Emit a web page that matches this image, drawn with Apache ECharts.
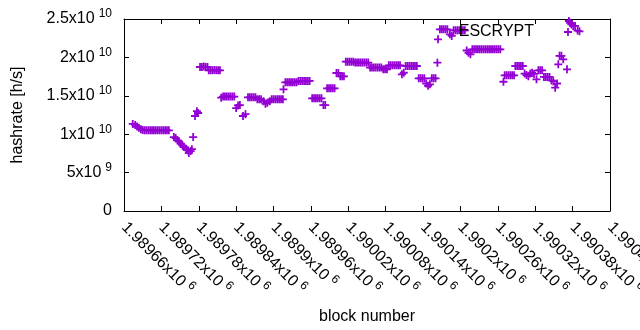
<!DOCTYPE html>
<html>
<head>
<meta charset="utf-8">
<script src="https://cdn.jsdelivr.net/npm/echarts@6/dist/echarts.min.js"></script>
<style>
  html, body { margin: 0; padding: 0; background: #fff; }
  #main { width: 640px; height: 330px; }
</style>
</head>
<body>
<div id="main"></div>
<script>
var seriesName = 'ESCRYPT'

// block number of each sample
var blockNumbers = [
  1989674, 1989678, 1989681, 1989684, 1989687,
  1989690, 1989693, 1989696, 1989699, 1989702, 1989705, 1989708, 1989711, 1989714, 1989717, 1989720, 1989723, 1989726, 1989729, 1989732,
  1989740, 1989743, 1989746, 1989748, 1989751, 1989754, 1989756, 1989760, 1989763, 1989764, 1989767, 1989769, 1989771,
  1989774, 1989777, 1989779,
  1989782, 1989785, 1989788, 1989791, 1989794,
  1989796, 1989799, 1989802, 1989805, 1989808, 1989811, 1989814,
  1989816, 1989819, 1989822, 1989825, 1989828, 1989831, 1989834, 1989837,
  1989840, 1989843, 1989846, 1989851, 1989855,
  1989859, 1989862, 1989865, 1989868, 1989871, 1989874, 1989877, 1989880,
  1989884, 1989887, 1989890, 1989894,
  1989897, 1989900, 1989903, 1989906, 1989909, 1989912, 1989915, 1989916,
  1989919, 1989922, 1989925, 1989928, 1989931, 1989934, 1989937,
  1989940, 1989943, 1989946, 1989949, 1989952, 1989955, 1989958,
  1989962, 1989965, 1989968, 1989971, 1989974, 1989977, 1989980, 1989983,
  1989986, 1989989, 1989992, 1989995, 1989998,
  1990001, 1990004, 1990007, 1990010, 1990013,
  1990016, 1990019, 1990022, 1990025, 1990028,
  1990031, 1990034, 1990037, 1990040, 1990043, 1990046, 1990049, 1990052,
  1990055, 1990058, 1990061, 1990064, 1990067, 1990070, 1990073, 1990076, 1990079, 1990082,
  1990085, 1990088, 1990091, 1990094, 1990097, 1990100, 1990103, 1990106, 1990109,
  1990112, 1990115, 1990118, 1990121, 1990124, 1990127, 1990130,
  1990133, 1990136, 1990139, 1990142, 1990145, 1990148, 1990151, 1990154, 1990157, 1990160,
  1990163, 1990164,
  1990167, 1990170, 1990173, 1990176, 1990179, 1990183, 1990186,
  1990189, 1990192, 1990195, 1990198, 1990201, 1990204, 1990207,
  1990210, 1990213, 1990216,
  1990219, 1990222, 1990225, 1990228, 1990231, 1990234, 1990237, 1990240, 1990243, 1990246, 1990249, 1990252, 1990255, 1990258, 1990261, 1990264,
  1990269, 1990271, 1990274, 1990277, 1990280, 1990283, 1990286,
  1990288, 1990291, 1990294, 1990297, 1990300,
  1990303, 1990306, 1990309, 1990312, 1990315, 1990318, 1990322,
  1990325, 1990328, 1990331, 1990334, 1990337, 1990340, 1990343,
  1990346, 1990349, 1990352, 1990355, 1990357, 1990359, 1990362, 1990365, 1990371,
  1990374, 1990376, 1990378, 1990381, 1990384, 1990388, 1990391
]

// hashrate in units of 1e9 h/s, one per block above
var hashrates = [
  11.33, 11.2, 11.0, 10.85, 10.65,
  10.55, 10.5, 10.5, 10.5, 10.5, 10.5, 10.5, 10.5, 10.5, 10.5, 10.5, 10.5, 10.5, 10.5, 10.5,
  9.63, 9.5, 9.2, 9.05, 8.76, 8.53, 8.33, 8.07, 7.88, 7.55, 7.81, 8.05, 9.63,
  12.37, 13.0, 12.76,
  18.75, 18.75, 18.8, 18.75, 18.75,
  18.32, 18.32, 18.32, 18.35, 18.32, 18.32, 18.32,
  14.75, 14.9, 14.9, 14.9, 14.9, 14.9, 14.9, 14.9,
  13.4, 13.75, 13.8, 12.37, 12.6,
  14.8, 14.8, 14.8, 14.8, 14.8, 14.55, 14.55, 14.55,
  14.3, 13.97, 14.1, 14.3,
  14.54, 14.54, 14.54, 14.54, 14.54, 14.54, 14.54, 15.85,
  16.76, 16.76, 16.76, 16.76, 16.76, 16.76, 16.76,
  16.93, 16.93, 16.93, 16.93, 16.93, 16.93, 16.93,
  14.67, 14.67, 14.67, 14.67, 14.67, 14.67, 13.8, 13.8,
  15.98, 15.98, 15.98, 15.98, 15.98,
  17.97, 17.97, 17.54, 17.54, 17.54,
  19.44, 19.44, 19.44, 19.44, 19.44,
  19.33, 19.33, 19.33, 19.33, 19.33, 19.33, 19.33, 19.33,
  18.68, 18.68, 18.68, 18.68, 18.68, 18.68, 18.68, 18.45, 18.45, 18.45,
  18.97, 18.97, 18.97, 18.97, 18.97, 18.97, 18.97, 17.8, 18.0,
  18.88, 18.88, 18.88, 18.88, 18.88, 18.88, 18.88,
  17.28, 17.28, 17.28, 17.28, 16.6, 16.3, 16.5, 17.28, 17.28, 17.28,
  19.31, 22.36,
  23.66, 23.66, 23.66, 23.66, 23.66, 23.0, 22.8,
  23.53, 23.53, 23.53, 23.53, 23.53, 23.53, 23.53,
  20.9, 20.6, 20.4,
  21.05, 21.05, 21.05, 21.05, 21.05, 21.05, 21.05, 21.05, 21.05, 21.05, 21.05, 21.05, 21.05, 21.05, 21.05, 21.05,
  16.83, 17.67, 17.67, 17.67, 17.67, 17.67, 17.67,
  18.88, 18.88, 18.88, 18.88, 18.88,
  17.9, 17.7, 17.55, 17.9, 18.0, 17.85, 17.15,
  18.32, 18.32, 18.32, 17.45, 17.45, 17.45, 17.45,
  17.0, 16.9, 16.05, 16.6, 19.1, 20.2, 20.2, 19.75, 18.45,
  24.74, 24.5, 24.3, 24.1, 24.1, 23.5, 23.4
]

var points = blockNumbers.map(function (b, i) {
  return [b, hashrates[i] * 1e9]
})

var font = "'Liberation Sans', Arial, sans-serif"
var plusIcon = 'path://M0,3.5H9V5.5H0Z M3.5,0H5.5V9H3.5Z'

// gnuplot style "1.5x10^10"
function sciLabel(v) {
  if (v === 0) return '{m|0}'
  var e = Math.floor(Math.log10(v))
  var m = parseFloat((v / Math.pow(10, e)).toFixed(6))
  return '{m|' + m + 'x10}{e|' + e + '}'
}

var rich = {
  m: { fontSize: 16, lineHeight: 22, color: '#000', fontFamily: font },
  e: { fontSize: 12, lineHeight: 12, verticalAlign: 'top', color: '#000', fontFamily: font, padding: [0, 0, 0, 4] }
}

var black = { color: '#000', width: 1 }

var myChart = echarts.init(document.getElementById('main'))
myChart.setOption({
  animation: false,
  backgroundColor: '#fff',
  grid: { left: 124, right: 30, top: 19, bottom: 119, containLabel: false, outerBoundsMode: 'none' },
  legend: {
    data: [{ name: seriesName, icon: plusIcon }],
    right: 68,
    top: 24,
    padding: 0,
    align: 'right',
    itemWidth: 58,
    itemHeight: 8,
    symbolKeepAspect: true,
    textStyle: { fontSize: 16, color: '#000', fontFamily: font }
  },
  xAxis: [
    {
      type: 'value',
      min: 1989660,
      max: 1990440,
      interval: 60,
      name: 'block number',
      nameLocation: 'middle',
      nameGap: 98,
      nameTextStyle: { fontSize: 16, color: '#000', fontFamily: font },
      axisLine: { show: true, onZero: false, lineStyle: black },
      axisTick: { show: true, inside: true, length: 5, lineStyle: black },
      splitLine: { show: false },
      axisLabel: {
        rotate: -45,
        margin: 14,
        showMaxLabel: true,
        showMinLabel: true,
        formatter: sciLabel,
        rich: rich
      }
    },
    {
      type: 'value',
      position: 'top',
      min: 1989660,
      max: 1990440,
      interval: 60,
      axisLine: { show: true, onZero: false, lineStyle: black },
      axisTick: { show: true, inside: true, length: 5, lineStyle: black },
      axisLabel: { show: false },
      splitLine: { show: false }
    }
  ],
  yAxis: [
    {
      type: 'value',
      min: 0,
      max: 2.5e10,
      interval: 5e9,
      name: 'hashrate [h/s]',
      nameLocation: 'middle',
      nameGap: 98,
      nameTextStyle: { fontSize: 16, color: '#000', fontFamily: font },
      axisLine: { show: true, onZero: false, lineStyle: black },
      axisTick: { show: true, inside: true, length: 5, lineStyle: black },
      splitLine: { show: false },
      axisLabel: { margin: 12, formatter: sciLabel, rich: rich }
    },
    {
      type: 'value',
      position: 'right',
      min: 0,
      max: 2.5e10,
      interval: 5e9,
      axisLine: { show: true, onZero: false, lineStyle: black },
      axisTick: { show: true, inside: true, length: 5, lineStyle: black },
      axisLabel: { show: false },
      splitLine: { show: false }
    }
  ],
  series: [
    {
      name: seriesName,
      type: 'scatter',
      xAxisIndex: 0,
      yAxisIndex: 0,
      symbol: plusIcon,
      symbolSize: 8,
      itemStyle: { color: '#9400d3', opacity: 1 },
      data: points
    }
  ]
})
</script>
</body>
</html>
